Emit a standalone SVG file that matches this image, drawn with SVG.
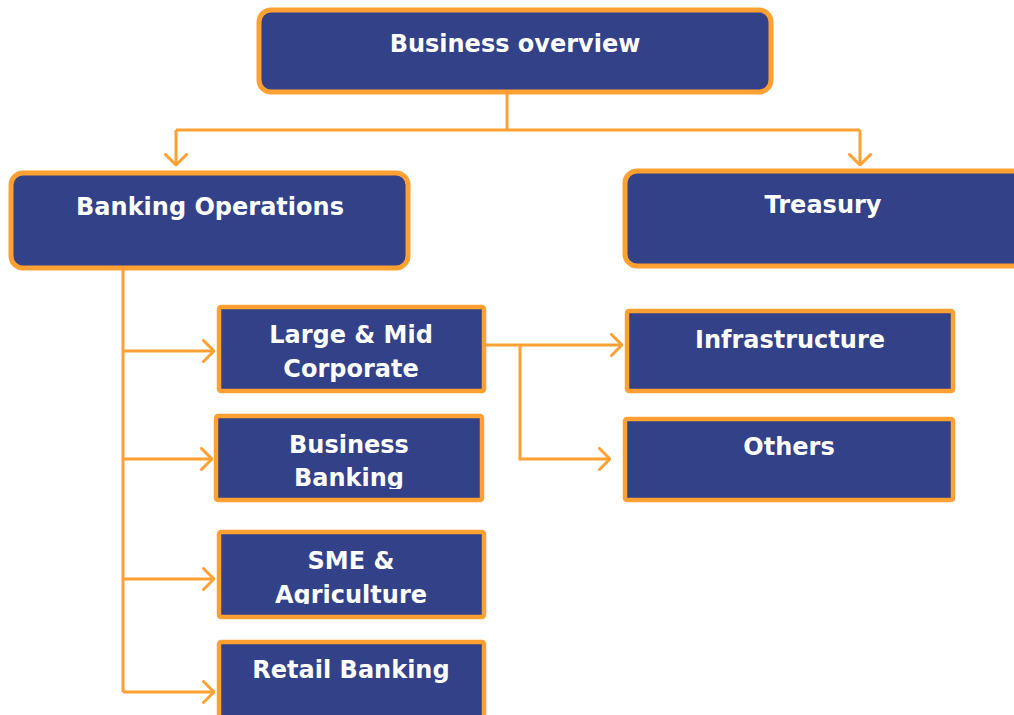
<svg xmlns="http://www.w3.org/2000/svg" width="1014" height="715" viewBox="0 0 1014 715">
  <defs>
    <style>
      .box { fill: #324188; stroke: #FFA033; stroke-width: 5; }
      .sub { fill: #324188; stroke: #FFA033; stroke-width: 4.5; }
      .lbl { font-family: "DejaVu Sans", Verdana, sans-serif; font-weight: bold; font-size: 24px; fill: #FFFFFF; text-anchor: middle; }
      .wire { fill: none; stroke: #FFA033; stroke-width: 3; }
    </style>
    <marker id="chev" viewBox="0 0 13 24" markerWidth="13" markerHeight="24" refX="12" refY="12" orient="auto" markerUnits="userSpaceOnUse">
      <path d="M1.5,1.5 L12,12 L1.5,22.5" fill="none" stroke="#FFA033" stroke-width="3" stroke-linecap="round" stroke-linejoin="round"/>
    </marker>
    <clipPath id="clipBB"><rect x="215" y="415" width="268" height="74"/></clipPath>
    <clipPath id="clipSME"><rect x="218" y="531" width="267" height="73"/></clipPath>
  </defs>

  <!-- connectors -->
  <g id="connectors">
    <path class="wire" d="M507,92 V130"/>
    <path class="wire" d="M176,130 H860"/>
    <path class="wire" d="M176,130 V165" marker-end="url(#chev)"/>
    <path class="wire" d="M860,130 V165" marker-end="url(#chev)"/>
    <path class="wire" d="M123,269 V692"/>
    <path class="wire" d="M123,351 H214" marker-end="url(#chev)"/>
    <path class="wire" d="M123,459 H212" marker-end="url(#chev)"/>
    <path class="wire" d="M123,579 H214" marker-end="url(#chev)"/>
    <path class="wire" d="M123,692 H214" marker-end="url(#chev)"/>
    <path class="wire" d="M485,345 H622" marker-end="url(#chev)"/>
    <path class="wire" d="M520,345 V459 H610" marker-end="url(#chev)"/>
  </g>

  <g id="business-overview">
    <rect class="box" x="259" y="10" width="512" height="82" rx="12"/>
    <text class="lbl" x="515" y="52">Business overview</text>
  </g>

  <g id="banking-operations">
    <rect class="box" x="11" y="173" width="397" height="95" rx="12"/>
    <text class="lbl" x="210" y="215">Banking Operations</text>
  </g>

  <g id="treasury">
    <rect class="box" x="625" y="171" width="400" height="95" rx="12"/>
    <text class="lbl" x="823" y="213">Treasury</text>
  </g>

  <g id="large-mid-corporate">
    <rect class="sub" x="219" y="307" width="265" height="84" rx="2"/>
    <text class="lbl" x="351" y="343">Large &amp; Mid</text>
    <text class="lbl" x="351" y="377">Corporate</text>
  </g>

  <g id="business-banking">
    <rect class="sub" x="216" y="416" width="266" height="84" rx="2"/>
    <g clip-path="url(#clipBB)">
      <text class="lbl" x="349" y="453">Business</text>
      <text class="lbl" x="349" y="486">Banking</text>
    </g>
  </g>

  <g id="sme-agriculture">
    <rect class="sub" x="219" y="532" width="265" height="85" rx="2"/>
    <g clip-path="url(#clipSME)">
      <text class="lbl" x="351" y="569">SME &amp;</text>
      <text class="lbl" x="351" y="603">Agriculture</text>
    </g>
  </g>

  <g id="retail-banking">
    <rect class="sub" x="219" y="642" width="265" height="85" rx="2"/>
    <text class="lbl" x="351" y="678">Retail Banking</text>
  </g>

  <g id="infrastructure">
    <rect class="sub" x="627" y="311" width="326" height="80" rx="2"/>
    <text class="lbl" x="790" y="348">Infrastructure</text>
  </g>

  <g id="others">
    <rect class="sub" x="625" y="419" width="328" height="81" rx="2"/>
    <text class="lbl" x="789" y="455">Others</text>
  </g>
</svg>
